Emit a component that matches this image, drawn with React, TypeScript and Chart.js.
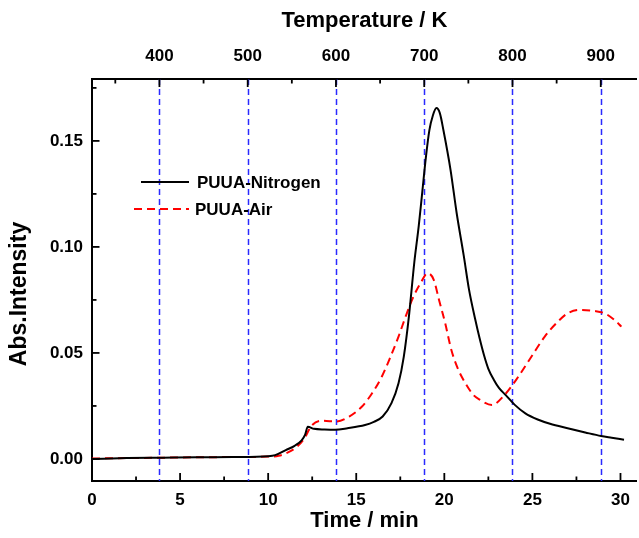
import { useEffect, useRef } from 'react';
import { Chart, registerables } from 'chart.js';

Chart.register(...registerables);

// ---------- data ----------
const seriesLabels = ['PUUA-Nitrogen', 'PUUA-Air'];

const nitrogenTime = [
  0, 2, 4, 6, 8, 10, 10.4, 11, 11.5, 11.9, 12.1, 12.25, 12.6, 13.2, 13.8, 14.5, 15.5, 16.0,
  16.5, 17.0, 17.4, 17.7, 18.0, 18.3, 18.55, 18.75, 18.95, 19.15, 19.35, 19.55, 19.75, 19.95,
  20.35, 20.7, 21.1, 21.4, 21.75, 22.0, 22.25, 22.5, 22.8, 23.1, 23.5, 24.0, 24.6, 25.3, 26.0,
  27.0, 28.0, 28.9, 29.5, 30.2,
];
const nitrogenValue = [
  0.0, 0.0004, 0.0006, 0.0008, 0.0009, 0.0013, 0.0018, 0.0042, 0.0062, 0.0088, 0.0115, 0.0152,
  0.0142, 0.0139, 0.0138, 0.0145, 0.016, 0.0175, 0.02, 0.0263, 0.0357, 0.0483, 0.068, 0.093,
  0.11, 0.126, 0.142, 0.155, 0.162, 0.1655, 0.163, 0.155, 0.1365, 0.116, 0.096, 0.08, 0.066,
  0.057, 0.049, 0.0425, 0.0375, 0.0335, 0.03, 0.0255, 0.0215, 0.0186, 0.0166, 0.0145, 0.0125,
  0.0108, 0.01, 0.0091,
];

const airTime = [
  0, 2, 4, 6, 8, 10, 10.6, 11.1, 11.6, 12.0, 12.5, 13.0, 13.5, 13.9, 14.6, 15.3, 15.9, 16.45,
  16.95, 17.4, 17.8, 18.25, 18.65, 19.05, 19.4, 19.7, 20.05, 20.4, 20.8, 21.2, 21.65, 22.0,
  22.7, 23.4, 24.2, 24.95, 25.7, 26.45, 27.0, 27.7, 28.5, 29.1, 29.65, 30.05,
];
const airValue = [
  0.0002, 0.0004, 0.0006, 0.0008, 0.0009, 0.0011, 0.0015, 0.003, 0.0055, 0.009, 0.016, 0.018,
  0.0178, 0.0177, 0.02, 0.0245, 0.031, 0.0388, 0.0483, 0.0577, 0.0671, 0.0766, 0.0829, 0.0876,
  0.0845, 0.075, 0.064, 0.0514, 0.042, 0.0357, 0.0302, 0.028, 0.0255, 0.03, 0.0388, 0.0483,
  0.0577, 0.0648, 0.0687, 0.0703, 0.0698, 0.0687, 0.0656, 0.0624,
];

const timeTicks = [0, 5, 10, 15, 20, 25, 30];
const timeMinorTicks = [2.5, 7.5, 12.5, 17.5, 22.5, 27.5];
const tempTicks = [400, 500, 600, 700, 800, 900];
const tempMinorTicks = [350, 450, 550, 650, 750, 850];
const intensityTicks = [0, 0.05, 0.1, 0.15];
const intensityMinorTicks = [0.025, 0.075, 0.125, 0.175];

// axis ranges
const timeRange = [0, 30.93];
const tempRange = [323.6, 940.9];
const intensityRange = [-0.0104, 0.1792];

const FONT = "'Liberation Sans', Arial, sans-serif";

const decorPlugin = {
  id: 'decor',
  beforeDatasetsDraw(chart: any) {
    const { ctx, chartArea } = chart;
    const x2 = chart.scales.x2;
    ctx.save();
    ctx.strokeStyle = '#2a2aff';
    ctx.lineWidth = 1.5;
    ctx.setLineDash([6, 4]);
    for (const v of tempTicks) {
      const px = Math.round(x2.getPixelForValue(v)) + 0.5;
      ctx.beginPath();
      ctx.moveTo(px, chartArea.top);
      ctx.lineTo(px, chartArea.bottom);
      ctx.stroke();
    }
    ctx.restore();
  },
  afterDraw(chart: any) {
    const { ctx, chartArea } = chart;
    const { x, x2, y } = chart.scales;
    ctx.save();
    ctx.strokeStyle = '#000';
    ctx.lineWidth = 1.8;
    ctx.setLineDash([]);
    const tick = (x0: number, y0: number, x1: number, y1: number) => {
      ctx.beginPath();
      ctx.moveTo(x0, y0);
      ctx.lineTo(x1, y1);
      ctx.stroke();
    };
    for (const v of timeTicks) {
      const px = x.getPixelForValue(v);
      tick(px, chartArea.bottom, px, chartArea.bottom - 8);
    }
    for (const v of timeMinorTicks) {
      const px = x.getPixelForValue(v);
      tick(px, chartArea.bottom, px, chartArea.bottom - 4.5);
    }
    for (const v of tempTicks) {
      const px = x2.getPixelForValue(v);
      tick(px, chartArea.top, px, chartArea.top + 8);
    }
    for (const v of tempMinorTicks) {
      const px = x2.getPixelForValue(v);
      tick(px, chartArea.top, px, chartArea.top + 4.5);
    }
    for (const v of intensityTicks) {
      const py = y.getPixelForValue(v);
      tick(chartArea.left, py, chartArea.left + 7.5, py);
    }
    for (const v of intensityMinorTicks) {
      const py = y.getPixelForValue(v);
      tick(chartArea.left, py, chartArea.left + 4.5, py);
    }

    // y-axis title (drawn slightly below the axis centre, as in the original)
    const yTitle = chart.options.scales.y.title.text;
    ctx.save();
    ctx.translate(20, 294);
    ctx.rotate(-Math.PI / 2);
    ctx.font = `bold 23px ${FONT}`;
    ctx.fillStyle = '#000';
    ctx.textAlign = 'center';
    ctx.textBaseline = 'middle';
    ctx.fillText(yTitle, 0, 0);
    ctx.restore();

    // legend
    const items = chart.data.datasets;
    const rows = [
      { ly: 182, lx0: 141, lx1: 189, tx: 197 },
      { ly: 209, lx0: 134, lx1: 189, tx: 195 },
    ];
    ctx.font = `bold 17px ${FONT}`;
    ctx.textBaseline = 'middle';
    ctx.textAlign = 'left';
    items.forEach((ds: any, i: number) => {
      const r = rows[i];
      ctx.strokeStyle = ds.borderColor;
      ctx.lineWidth = ds.borderWidth;
      ctx.setLineDash(ds.borderDash || []);
      ctx.beginPath();
      ctx.moveTo(r.lx0, r.ly);
      ctx.lineTo(r.lx1, r.ly);
      ctx.stroke();
      ctx.fillStyle = '#000';
      ctx.fillText(ds.label, r.tx, r.ly + 1);
    });
    ctx.restore();
  },
};

export default function App() {
  const ref = useRef<HTMLCanvasElement | null>(null);
  useEffect(() => {
    if (!ref.current) return;
    const tickFont = { family: FONT, size: 17, weight: 'bold' as const };
    const titleFont = { family: FONT, size: 22, weight: 'bold' as const };
    const chart = new Chart(ref.current, {
      type: 'line',
      data: {
        datasets: [
          {
            label: seriesLabels[0],
            data: nitrogenTime.map((t, i) => ({ x: t, y: nitrogenValue[i] })),
            borderColor: '#000000',
            borderWidth: 2,
            pointRadius: 0,
            cubicInterpolationMode: 'monotone',
            fill: false,
          },
          {
            label: seriesLabels[1],
            data: airTime.map((t, i) => ({ x: t, y: airValue[i] })),
            borderColor: '#ff0000',
            borderWidth: 2,
            borderDash: [8, 5],
            pointRadius: 0,
            cubicInterpolationMode: 'monotone',
            fill: false,
          },
        ],
      },
      options: {
        responsive: false,
        animation: false,
        devicePixelRatio: 1,
        layout: { padding: 0 },
        plugins: { legend: { display: false }, tooltip: { enabled: false } },
        scales: {
          x: {
            type: 'linear',
            position: 'bottom',
            min: timeRange[0],
            max: timeRange[1],
            afterBuildTicks: (s: any) => {
              s.ticks = timeTicks.map((v) => ({ value: v }));
            },
            afterFit: (s: any) => {
              s.height = 57;
            },
            grid: { display: false, drawTicks: false },
            border: { display: true, color: '#000', width: 2 },
            ticks: { color: '#000', font: tickFont, padding: 9, maxRotation: 0, callback: (v: any) => String(v) },
            title: {
              display: true,
              text: 'Time / min',
              color: '#000',
              font: titleFont,
              padding: { top: 0, bottom: 4 },
            },
          },
          x2: {
            type: 'linear',
            position: 'top',
            min: tempRange[0],
            max: tempRange[1],
            afterBuildTicks: (s: any) => {
              s.ticks = tempTicks.map((v) => ({ value: v }));
            },
            afterFit: (s: any) => {
              s.height = 79;
            },
            grid: { display: false, drawTicks: false },
            border: { display: true, color: '#000', width: 2 },
            ticks: { color: '#000', font: tickFont, padding: 12, maxRotation: 0, callback: (v: any) => String(v) },
            title: {
              display: true,
              text: 'Temperature / K',
              color: '#000',
              font: titleFont,
              padding: { top: 8, bottom: 0 },
            },
          },
          y: {
            type: 'linear',
            position: 'left',
            min: intensityRange[0],
            max: intensityRange[1],
            afterBuildTicks: (s: any) => {
              s.ticks = intensityTicks.map((v) => ({ value: v }));
            },
            afterFit: (s: any) => {
              s.width = 92;
            },
            grid: { display: false, drawTicks: false },
            border: { display: true, color: '#000', width: 2 },
            ticks: { color: '#000', font: tickFont, padding: 9, callback: (v: any) => Number(v).toFixed(2) },
            title: {
              display: false,
              text: 'Abs.Intensity',
            },
          },
        },
      },
      plugins: [decorPlugin],
    } as any);
    return () => chart.destroy();
  }, []);
  return (
    <div style={{ position: 'absolute', left: 0, top: 0, width: 639, height: 538, background: '#fff' }}>
      <canvas ref={ref} width={639} height={538} style={{ display: 'block', width: 639, height: 538 }} />
    </div>
  );
}
